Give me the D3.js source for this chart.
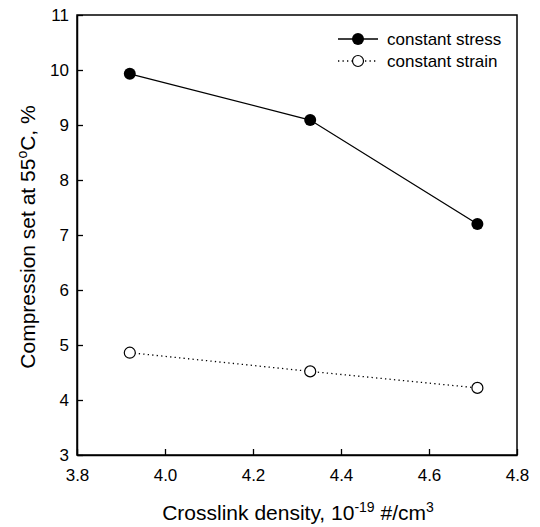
<!DOCTYPE html>
<html>
<head>
<meta charset="utf-8">
<script src="https://cdn.jsdelivr.net/npm/d3@7"></script>
<style>
  html, body { margin: 0; padding: 0; background: #fff; }
  svg { display: block; font-family: "Liberation Sans", Arial, sans-serif; }
</style>
</head>
<body>
<svg id="chart" width="540" height="527"></svg>
<script>
// Crosslink density (10^-19 #/cm^3)
const density = [3.92, 4.33, 4.71];
// Compression set at 55 °C, %
const constantStress = [9.93, 9.09, 7.20];
const constantStrain = [4.86, 4.52, 4.22];
const xTicks = [3.8, 4.0, 4.2, 4.4, 4.6, 4.8];
const yTicks = [3, 4, 5, 6, 7, 8, 9, 10, 11];
const seriesNames = ["constant stress", "constant strain"];

const svg = d3.select("#chart");
const m = { left: 77, right: 517, top: 15, bottom: 455 };

const x = d3.scaleLinear().domain([3.8, 4.8]).range([m.left, m.right]);
const y = d3.scaleLinear().domain([3, 11]).range([m.bottom, m.top]);

// frame
svg.append("rect")
  .attr("x", m.left).attr("y", m.top)
  .attr("width", m.right - m.left).attr("height", m.bottom - m.top)
  .attr("fill", "none").attr("stroke", "#000").attr("stroke-width", 1.5);

// axes with inward ticks
const xAxis = svg.append("g")
  .attr("transform", `translate(0,${m.bottom})`)
  .call(d3.axisBottom(x).tickValues(xTicks).tickFormat(d3.format(".1f"))
    .tickSizeInner(-6).tickSizeOuter(0).tickPadding(14));
const yAxis = svg.append("g")
  .attr("transform", `translate(${m.left},0)`)
  .call(d3.axisLeft(y).tickValues(yTicks).tickFormat(d3.format("d"))
    .tickSizeInner(-6).tickSizeOuter(0).tickPadding(8));

[xAxis, yAxis].forEach(g => {
  g.select(".domain").attr("stroke", "#000").attr("stroke-width", 1.5);
  g.selectAll(".tick line").attr("stroke", "#000").attr("stroke-width", 1.3);
  g.selectAll(".tick text").attr("fill", "#000")
    .style("font-size", "17px").style("font-family", "Liberation Sans, Arial, sans-serif");
});
xAxis.selectAll(".tick text").attr("dy", "0.71em");

// axis titles
const xt = svg.append("text")
  .attr("x", (m.left + m.right) / 2 + 1).attr("y", 520)
  .attr("text-anchor", "middle").style("font-size", "21px");
xt.append("tspan").text("Crosslink density, 10");
xt.append("tspan").attr("dy", -8).style("font-size", "14px").text("-19");
xt.append("tspan").attr("dy", 8).text(" #/cm");
xt.append("tspan").attr("dy", -8).style("font-size", "14px").text("3");

const yt = svg.append("text")
  .attr("transform", `translate(35,${(m.top + m.bottom) / 2 + 2}) rotate(-90)`)
  .attr("text-anchor", "middle").style("font-size", "21px");
yt.append("tspan").text("Compression set at 55");
yt.append("tspan").attr("dy", -8).style("font-size", "14px").text("o");
yt.append("tspan").attr("dy", 8).text("C, %");

// series
const line = d3.line().x(d => x(d[0])).y(d => y(d[1]));
const stressPts = density.map((d, i) => [d, constantStress[i]]);
const strainPts = density.map((d, i) => [d, constantStrain[i]]);

svg.append("path").datum(stressPts).attr("d", line)
  .attr("fill", "none").attr("stroke", "#000").attr("stroke-width", 1.3);
svg.append("path").datum(strainPts).attr("d", line)
  .attr("fill", "none").attr("stroke", "#000").attr("stroke-width", 1.3)
  .attr("stroke-dasharray", "1.3,3.2");

svg.selectAll("circle.stress").data(stressPts).join("circle")
  .attr("class", "stress")
  .attr("cx", d => x(d[0])).attr("cy", d => y(d[1])).attr("r", 6)
  .attr("fill", "#000");
svg.selectAll("circle.strain").data(strainPts).join("circle")
  .attr("class", "strain")
  .attr("cx", d => x(d[0])).attr("cy", d => y(d[1])).attr("r", 5.5)
  .attr("fill", "#fff").attr("stroke", "#000").attr("stroke-width", 1.2);

// legend
const legend = svg.append("g");
seriesNames.forEach((name, i) => {
  const ly = 39 + i * 22;
  const g = legend.append("g");
  g.append("line").attr("x1", 338).attr("x2", 378).attr("y1", ly).attr("y2", ly)
    .attr("stroke", "#000").attr("stroke-width", 1.3)
    .attr("stroke-dasharray", i === 0 ? null : "1.3,3.2");
  g.append("circle").attr("cx", 358).attr("cy", ly).attr("r", i === 0 ? 6 : 5.5)
    .attr("fill", i === 0 ? "#000" : "#fff").attr("stroke", "#000")
    .attr("stroke-width", i === 0 ? 0 : 1.2);
  g.append("text").attr("x", 387).attr("y", ly + 6)
    .style("font-size", "17px").text(name);
});
</script>
</body>
</html>
